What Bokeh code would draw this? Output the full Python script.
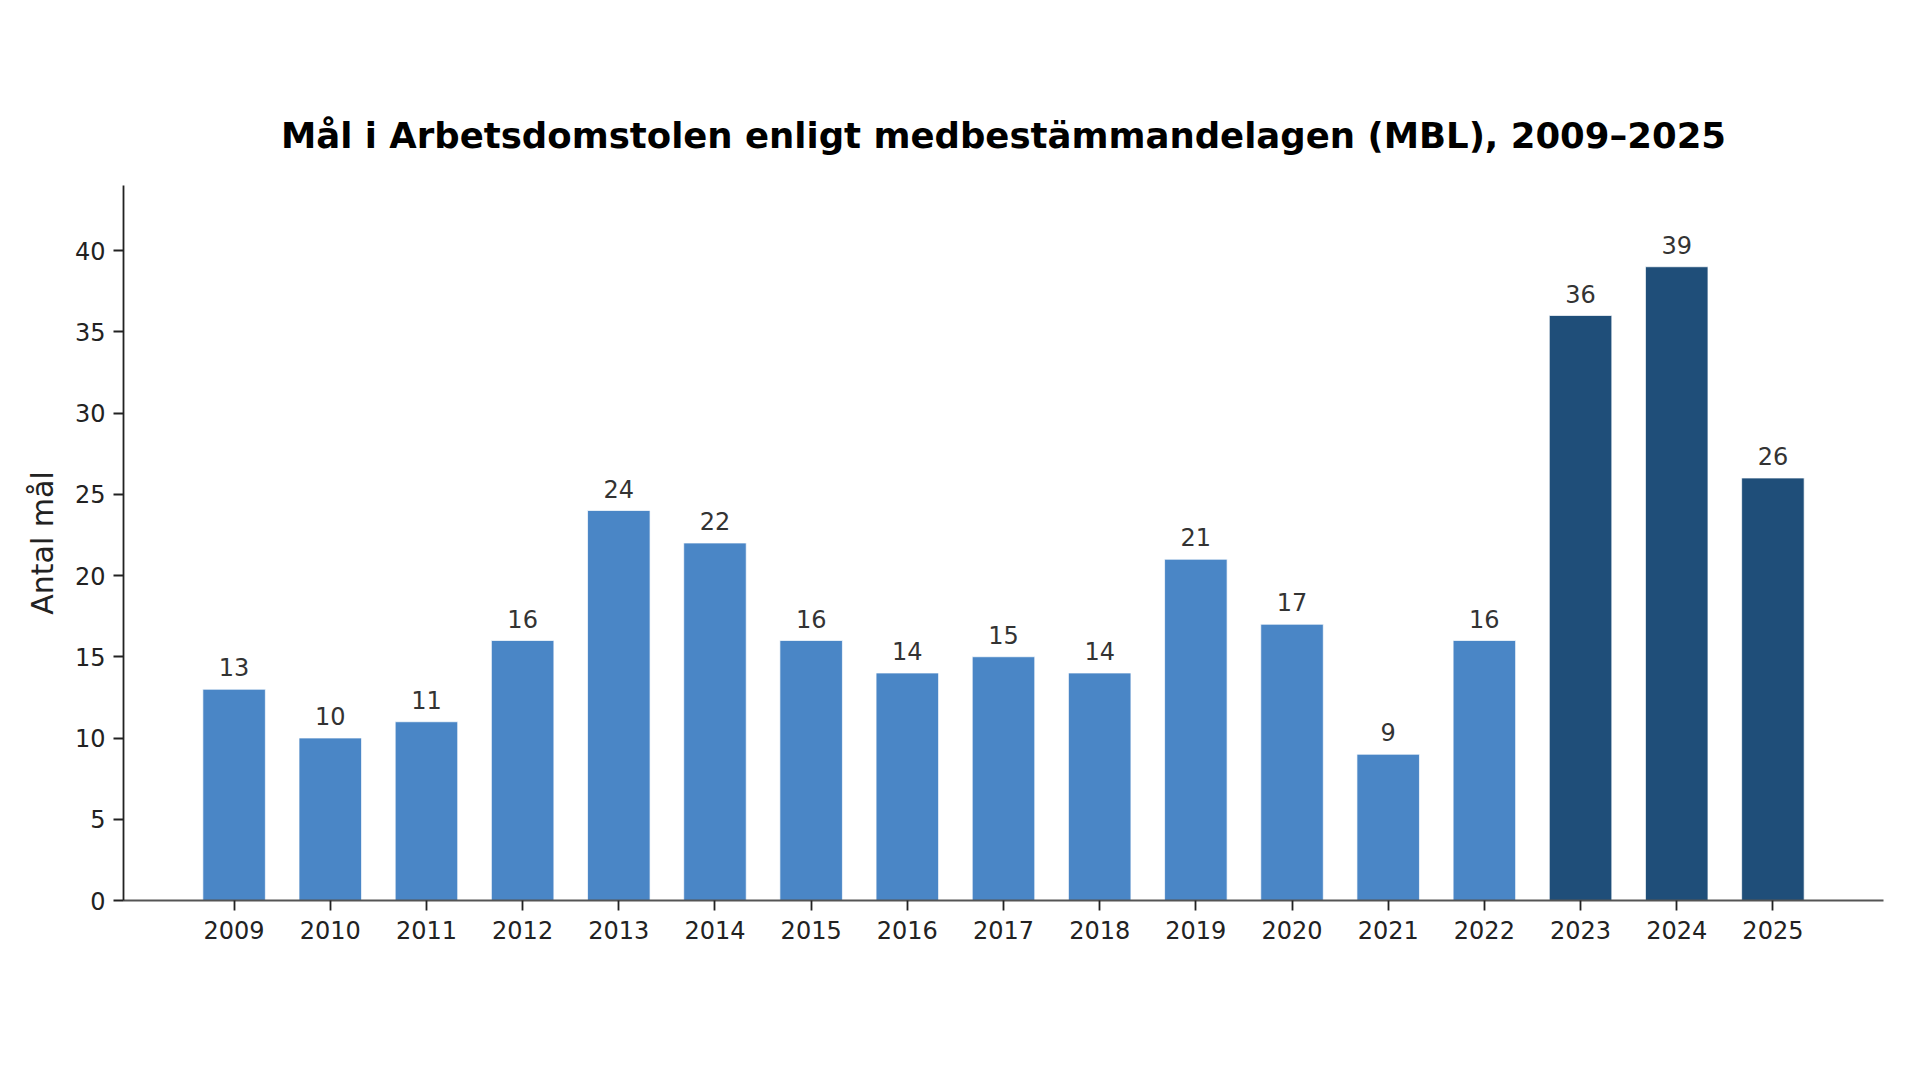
from bokeh.plotting import figure
from bokeh.models import ColumnDataSource, Range1d, FixedTicker
from bokeh.embed import file_html
from bokeh.resources import INLINE
from bokeh.core.properties import value

# ---- data ----
years = ["2009", "2010", "2011", "2012", "2013", "2014", "2015", "2016", "2017",
         "2018", "2019", "2020", "2021", "2022", "2023", "2024", "2025"]
cases = [13, 10, 11, 16, 24, 22, 16, 14, 15, 14, 21, 17, 9, 16, 36, 39, 26]
highlight_years = ["2023", "2024", "2025"]
y_ticks = [0, 5, 10, 15, 20, 25, 30, 35, 40]
title_text = "Mål i Arbetsdomstolen enligt medbestämmandelagen (MBL), 2009–2025"
y_label = "Antal mål"

LIGHT = "#4a86c6"
DARK = "#1f4e79"
FONT = "DejaVu Sans"

idx = list(range(len(years)))
colors = [DARK if y in highlight_years else LIGHT for y in years]
src = ColumnDataSource(dict(x=idx, year=years, cases=cases, color=colors,
                            label=[str(c) for c in cases]))

p = figure(width=1904, height=1060, output_backend="svg", toolbar_location=None,
           x_range=Range1d(-1.15, len(years) - 1 + 1.15), y_range=Range1d(0, 44),
           min_border_left=123, min_border_right=21, min_border_top=185,
           min_border_bottom=160)

p.vbar(x="x", top="cases", width=0.65, source=src, fill_color="color",
       line_color="white", line_width=1, line_alpha=0.7)

p.text(x="x", y="cases", text="label", source=src, text_align="center",
       text_baseline="alphabetic", y_offset=-22, text_font=value(FONT),
       text_font_size="24px", text_color="#333333")

# title
p.title.text = title_text
p.title.text_font = FONT
p.title.text_font_size = "35.5px"
p.title.text_font_style = "bold"
p.title.text_color = "#000000"
p.title.align = "center"
p.title.standoff = 60

# axes
p.xaxis.ticker = FixedTicker(ticks=idx)
p.xaxis.major_label_overrides = {i: y for i, y in zip(idx, years)}
p.yaxis.ticker = FixedTicker(ticks=y_ticks)
p.yaxis.axis_label = y_label

for ax in (p.xaxis, p.yaxis):
    ax.major_label_text_font = FONT
    ax.major_label_text_font_size = "24px"
    ax.major_label_text_color = "#222222"
    ax.major_tick_in = 0
    ax.major_tick_out = 10
    ax.major_tick_line_width = 1.8
    ax.major_tick_line_color = "#222222"
    ax.minor_tick_line_color = None
    ax.axis_line_width = 1.8
    ax.major_label_standoff = 8

p.xaxis.major_label_standoff = 10
p.yaxis.axis_line_color = "#222222"
p.xaxis.axis_line_color = "#555555"
p.yaxis.axis_label_text_font = FONT
p.yaxis.axis_label_text_font_size = "30px"
p.yaxis.axis_label_text_font_style = "normal"
p.yaxis.axis_label_text_color = "#222222"
p.yaxis.axis_label_standoff = 12

p.xgrid.grid_line_color = None
p.ygrid.grid_line_color = None
p.outline_line_color = None
p.background_fill_color = "white"
p.border_fill_color = "white"

open("out.html", "w").write(file_html(p, INLINE))
